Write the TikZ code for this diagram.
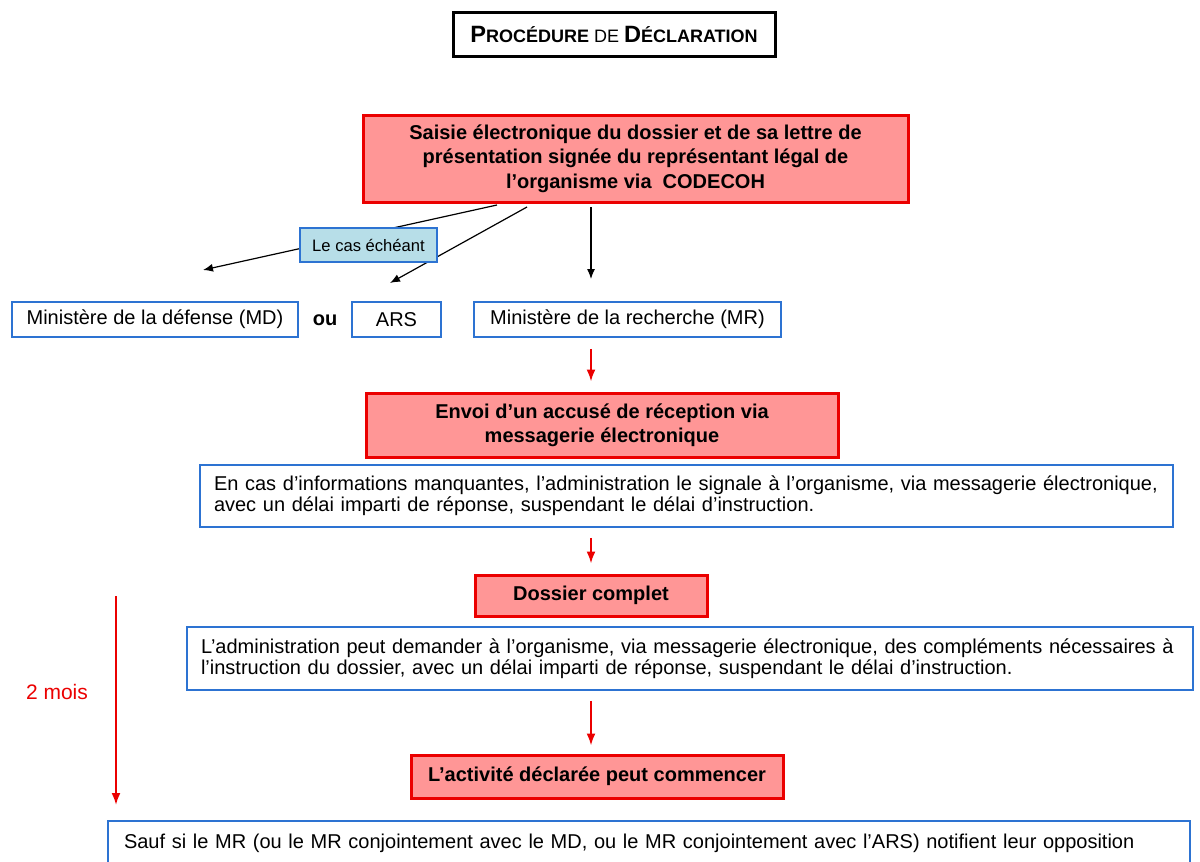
\documentclass[tikz,border=0pt]{standalone}
\usepackage{fontspec}
\setmainfont{Liberation Sans}
\usetikzlibrary{arrows.meta}
\definecolor{boxred}{RGB}{255,150,150}
\definecolor{linered}{RGB}{235,0,0}
\definecolor{lineblue}{RGB}{45,115,210}
\definecolor{boxcyan}{RGB}{183,222,232}
\begin{document}
\begin{tikzpicture}[
        x=0.5pt, y=-0.5pt,
        font=\fontsize{10}{10.5}\selectfont
    ]
    \tikzset{
        titlebox/.style = {rectangle, draw=black, line width=1.5pt, minimum width=161pt, minimum height=22pt, inner sep=0pt, font=\fontsize{9}{11}\selectfont\bfseries},
        boxr/.style = {rectangle, draw=linered, line width=1.5pt, fill=boxred, align=center, inner sep=0pt, font=\fontsize{10}{12.2}\selectfont\bfseries},
        boxb/.style = {rectangle, draw=lineblue, line width=0.8pt, fill=white, inner sep=0pt, minimum height=17.5pt},
        boxi/.style = {rectangle, draw=lineblue, line width=0.8pt, fill=white, align=left, inner xsep=7pt, inner ysep=0pt},
        boxc/.style = {rectangle, draw=lineblue, line width=0.6pt, fill=boxcyan, inner sep=0pt, minimum width=68.5pt, minimum height=17pt, font=\fontsize{8.3}{10}\selectfont},
        edgek/.style = {-{Latex[length=5pt,width=4pt]}, line width=0.6pt, black},
        edger/.style = {-{Latex[length=6pt,width=4.5pt]}, line width=1pt, linered},
    }
    \useasboundingbox (0,0) rectangle (1200,862);
    \clip (0,0) rectangle (1200,862);
    \node[titlebox] (title) at (614,34) {{\fontsize{11.8}{13}\selectfont P}ROCÉDURE {\mdseries DE} {\fontsize{11.8}{13}\selectfont D}ÉCLARATION};
    \node[boxr, minimum width=272.5pt, minimum height=43.5pt] (saisie) at (635.5,158.5) {Saisie électronique du dossier et de sa lettre de\\présentation signée du représentant légal de\\l’organisme via\ \ CODECOH};
    %
    \node[boxb, minimum width=143pt] (md) at (155,319.5) {Ministère de la défense (MD)};
    \node[font=\bfseries] (ou) at (325,320) {ou};
    \node[boxb, minimum width=44.5pt] (ars) at (396.5,319.5) {ARS};
    \node[boxb, minimum width=153.5pt] (mr) at (627.5,319.5) {Ministère de la recherche (MR)};
    %
    \node[boxr, minimum width=236pt, minimum height=32pt] (envoi) at (602,425) {Envoi d’un accusé de réception via\\messagerie électronique};
    \node[boxi, text width=472.5pt, minimum height=31pt] (info1) at (686.5,496) {En cas d’informations manquantes,\ l’administration le signale à l’organisme, via messagerie électronique,\\avec un délai imparti de réponse, suspendant\ le délai d’instruction.};
    \node[boxr, minimum width=116pt, minimum height=20.5pt] (complet) at (591,595.5) {Dossier complet};
    \node[boxi, text width=489pt, minimum height=31.5pt] (info2) at (690,658.5) {L’administration peut demander à l’organisme, via messagerie électronique, des compléments nécessaires à\\l’instruction\ du dossier, avec un délai imparti de réponse, suspendant le délai d’instruction.};
    \node[boxr, minimum width=186pt, minimum height=21.5pt] (activite) at (597,776.5) {L’activité\ déclarée peut commencer};
    \node[boxi, text width=525pt, minimum height=23pt, inner xsep=8pt, anchor=north] (sauf) at (649,820) {Sauf si le MR (ou le MR conjointement\ avec le MD, ou le MR conjointement\ avec l’ARS) notifient\ leur opposition};
    %
    \coordinate (s1) at (497,205);
    \coordinate (s2) at (527,207);
    \coordinate (s3) at (591,207);
    \coordinate (e1) at (203,270);
    \coordinate (e2) at (390,283);
    \coordinate (e3) at (591,279);
    \draw[edgek] (s1) -- (e1);
    \draw[edgek] (s2) -- (e2);
    \draw[edgek] (s3) -- (e3);
    \node[boxc] (cas) at (368.5,245) {Le cas échéant};
    %
    \draw[edger, shorten <=5.5pt, shorten >=5pt] (mr.south -| complet) -- (envoi.north -| complet);
    \draw[edger, shorten <=5pt, shorten >=5pt] (info1.south -| complet) -- (complet.north);
    \draw[edger, shorten <=5pt, shorten >=4pt] (info2.south -| complet) -- (activite.north -| complet);
    %
    \coordinate (t0) at (116,596);
    \coordinate (t1) at (116,805);
    \draw[edger] (t0) -- (t1);
    \node[text=linered, font=\fontsize{10.5}{12}\selectfont] (mois) at (57,692) {2 mois};
\end{tikzpicture}
\end{document}
